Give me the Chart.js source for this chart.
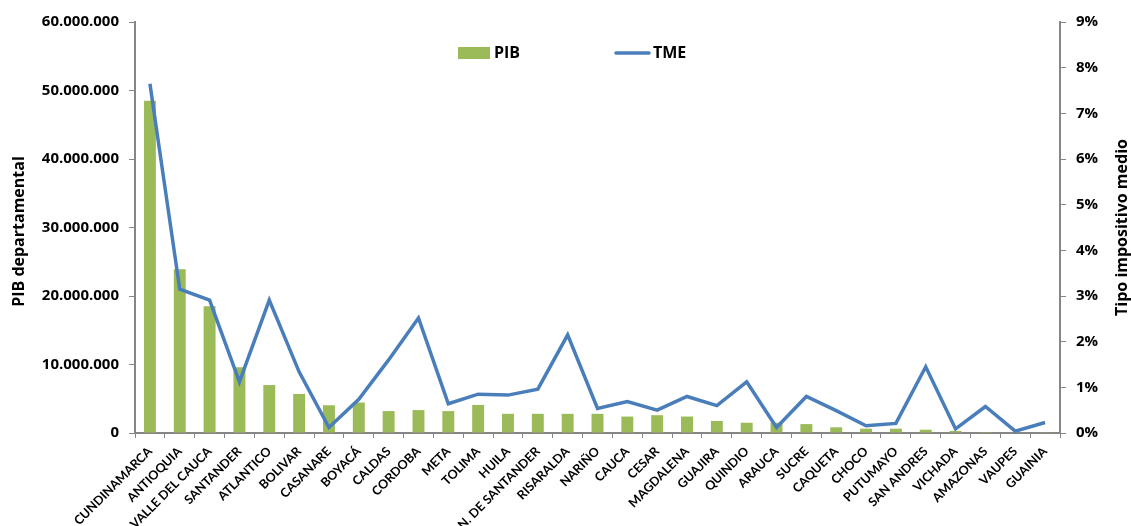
<!DOCTYPE html>
<html>
<head>
<meta charset="utf-8">
<script src="https://cdn.jsdelivr.net/npm/chart.js@4"></script>
<style>
  html, body { margin: 0; padding: 0; background: #fff; }
  #wrap { width: 1131px; height: 526px; position: relative; }
</style>
</head>
<body>
<div id="wrap"><canvas id="c" width="1131" height="526"></canvas></div>
<script>
// Departamentos de Colombia
const departamentos = [
  'CUNDINAMARCA', 'ANTIOQUIA', 'VALLE DEL CAUCA', 'SANTANDER', 'ATLANTICO',
  'BOLIVAR', 'CASANARE', 'BOYACÁ', 'CALDAS', 'CORDOBA', 'META', 'TOLIMA',
  'HUILA', 'N. DE SANTANDER', 'RISARALDA', 'NARIÑO', 'CAUCA', 'CESAR',
  'MAGDALENA', 'GUAJIRA', 'QUINDIO', 'ARAUCA', 'SUCRE', 'CAQUETA', 'CHOCO',
  'PUTUMAYO', 'SAN ANDRES', 'VICHADA', 'AMAZONAS', 'VAUPES', 'GUAINIA'
];

// PIB departamental
const pib = [
  48500000, 23900000, 18500000, 9600000, 7000000,
  5700000, 4050000, 4450000, 3200000, 3350000, 3200000, 4100000,
  2800000, 2800000, 2800000, 2800000, 2400000, 2600000,
  2400000, 1750000, 1500000, 1500000, 1300000, 830000, 630000,
  630000, 480000, 300000, 120000, 80000, 100000
];

// Tipo impositivo medio (TME), en fracción
const tme = [
  0.0765, 0.0315, 0.0291, 0.0112, 0.0291,
  0.0134, 0.0012, 0.0074, 0.0160, 0.0252, 0.0064, 0.0085,
  0.0083, 0.0096, 0.0215, 0.0054, 0.0069, 0.0050,
  0.0080, 0.0060, 0.0112, 0.0012, 0.0080, 0.0049, 0.0016,
  0.0021, 0.0145, 0.0009, 0.0058, 0.0004, 0.0023
];

const pibTicksMax = 60000000;
const tmeTicksMax = 0.09;
const titulos = { pib: 'PIB departamental', tme: 'Tipo impositivo medio' };

const GREEN = '#9BBB59';
const BLUE = '#4A7EBB';
const AXIS = '#868686';
const FONT = '"Open Sans", Lato, "DejaVu Sans", sans-serif';
const FONT_X = 'Lato, "Open Sans", "DejaVu Sans", sans-serif';

function fmtMiles(v) {
  return String(Math.round(v)).replace(/\B(?=(\d{3})+(?!\d))/g, '.');
}

// Leyenda y títulos de ejes, ambos leídos de abajo hacia arriba
const extras = {
  id: 'extras',
  afterDraw(chart) {
    const ctx = chart.ctx;
    const area = chart.chartArea;
    const midY = (area.top + area.bottom) / 2;
    ctx.save();
    // leyenda
    ctx.fillStyle = GREEN;
    ctx.fillRect(458, 47, 32, 12);
    ctx.strokeStyle = BLUE;
    ctx.lineWidth = 3.5;
    ctx.lineCap = 'round';
    ctx.beginPath();
    ctx.moveTo(616, 53);
    ctx.lineTo(649, 53);
    ctx.stroke();
    ctx.fillStyle = '#000';
    ctx.font = 'bold 16px ' + FONT;
    ctx.textBaseline = 'middle';
    ctx.textAlign = 'left';
    ctx.fillText(chart.data.datasets[0].label, 494, 53);
    ctx.fillText(chart.data.datasets[1].label, 653, 53);
    // títulos de ejes
    ctx.font = 'bold 16px ' + FONT;
    ctx.textAlign = 'center';
    ctx.save();
    ctx.translate(19, midY + 4);
    ctx.rotate(-Math.PI / 2);
    ctx.fillText(titulos.pib, 0, 0);
    ctx.restore();
    ctx.save();
    ctx.translate(1122, midY);
    ctx.rotate(-Math.PI / 2);
    ctx.fillText(titulos.tme, 0, 0);
    ctx.restore();
    ctx.restore();
  }
};

new Chart(document.getElementById('c'), {
  type: 'bar',
  data: {
    labels: departamentos,
    datasets: [
      {
        type: 'bar',
        label: 'PIB',
        data: pib,
        backgroundColor: GREEN,
        yAxisID: 'y',
        categoryPercentage: 0.8,
        barPercentage: 0.5,
        order: 2
      },
      {
        type: 'line',
        label: 'TME',
        data: tme,
        borderColor: BLUE,
        backgroundColor: BLUE,
        borderWidth: 3.5,
        pointRadius: 0,
        tension: 0,
        yAxisID: 'y2',
        order: 1
      }
    ]
  },
  plugins: [extras],
  options: {
    responsive: false,
    animation: false,
    layout: { padding: { top: 22, left: 0, right: 0, bottom: 0 } },
    plugins: {
      legend: { display: false },
      tooltip: { enabled: false }
    },
    scales: {
      x: {
        grid: { drawOnChartArea: false, drawTicks: true, tickLength: 5, color: AXIS, lineWidth: 1 },
        border: { color: AXIS, width: 2 },
        ticks: {
          autoSkip: false,
          maxRotation: 45,
          minRotation: 45,
          color: '#000',
          padding: 6,
          font: { family: FONT_X, size: 12.5, weight: 'bold' }
        },
        afterFit(scale) { scale.height = 93; }
      },
      y: {
        position: 'left',
        min: 0,
        max: pibTicksMax,
        grid: { drawOnChartArea: false, drawTicks: true, tickLength: 6, color: AXIS },
        border: { color: AXIS, width: 2 },
        ticks: {
          stepSize: 10000000,
          color: '#000',
          padding: 10,
          font: { family: FONT, size: 15, weight: 'bold' },
          callback: (v) => fmtMiles(v)
        },
        afterFit(scale) { scale.width = 135; }
      },
      y2: {
        position: 'right',
        min: 0,
        max: tmeTicksMax,
        grid: { drawOnChartArea: false, drawTicks: true, tickLength: 6, color: AXIS },
        border: { color: AXIS, width: 2 },
        ticks: {
          stepSize: 0.01,
          color: '#000',
          padding: 10,
          font: { family: FONT, size: 15, weight: 'bold' },
          callback: (v) => Math.round(v * 100) + '%'
        },
        afterFit(scale) { scale.width = 71; }
      }
    }
  }
});
</script>
</body>
</html>
